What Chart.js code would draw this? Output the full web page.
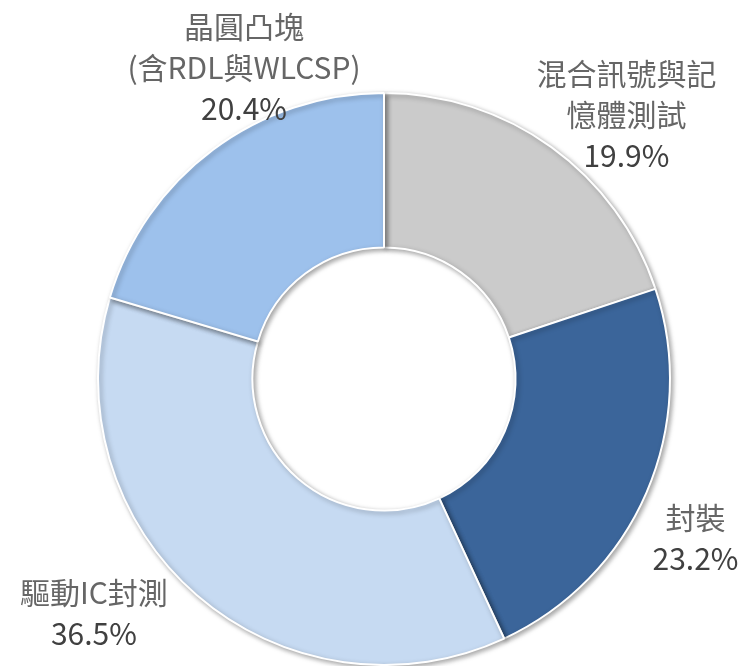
<!DOCTYPE html>
<html>
<head>
<meta charset="utf-8">
<script src="https://cdn.jsdelivr.net/npm/chart.js@4"></script>
<style>
  html, body { margin: 0; padding: 0; background: #ffffff; }
  #wrap { width: 744px; height: 666px; position: relative; }
</style>
</head>
<body>
<div id="wrap"><canvas id="myChart"></canvas></div>
<script>
// categorias (cada linha do rótulo separada)
let categorias = [
    ['混合訊號與記', '憶體測試'],
    ['封裝'],
    ['驅動IC封測'],
    ['晶圓凸塊', '(含RDL與WLCSP)']
];
let valores = [19.9, 23.2, 36.5, 20.4]; // %
let cores = ['#cbcbcb', '#3b659a', '#c6daf2', '#9dc1ec'];

// deslocamento do rótulo a partir do ponto médio externo de cada fatia
let nudges = [[75, -33], [49, 46], [-103, 18], [31, -82]];

const sombra = {
    id: 'sombra',
    beforeDatasetsDraw(chart) {
        const c = chart.ctx;
        c.save();
        c.shadowColor = 'rgba(0,0,0,0.35)';
        c.shadowBlur = 5;
        c.shadowOffsetX = 2;
        c.shadowOffsetY = 2;
    },
    afterDatasetsDraw(chart) {
        chart.ctx.restore();
    }
};

const rotulos = {
    id: 'rotulos',
    afterDraw(chart) {
        const c = chart.ctx;
        const meta = chart.getDatasetMeta(0);
        c.save();
        c.textAlign = 'center';
        c.textBaseline = 'middle';
        meta.data.forEach((arc, i) => {
            const p = arc.getProps(['x', 'y', 'startAngle', 'endAngle', 'outerRadius'], true);
            const mid = (p.startAngle + p.endAngle) / 2;
            const x = p.x + Math.cos(mid) * p.outerRadius + nudges[i][0];
            const y = p.y + Math.sin(mid) * p.outerRadius + nudges[i][1];
            const linhas = categorias[i].concat([valores[i].toFixed(1) + '%']);
            const lh = 41;
            const y0 = y - (linhas.length - 1) * lh / 2;
            linhas.forEach((t, k) => {
                c.font = '30px "Noto Sans CJK TC", "Noto Sans", sans-serif';
                c.fillStyle = k === linhas.length - 1 ? '#404040' : '#666666';
                c.fillText(t, x, y0 + k * lh);
            });
        });
        c.restore();
    }
};

let ctx = document.getElementById('myChart').getContext('2d');
let myChart = new Chart(ctx, {
    type: 'doughnut',
    data: {
        labels: categorias.map(l => l.join('')),
        datasets: [{
            data: valores,
            backgroundColor: cores,
            borderColor: '#ffffff',
            borderWidth: 2
        }]
    },
    options: {
        responsive: true,
        maintainAspectRatio: false,
        animation: false,
        cutout: '46%',
        layout: {
            padding: { top: 92, bottom: 0, left: 97, right: 73 }
        },
        plugins: {
            legend: { display: false },
            tooltip: { enabled: false }
        }
    },
    plugins: [sombra, rotulos]
});
</script>
</body>
</html>
